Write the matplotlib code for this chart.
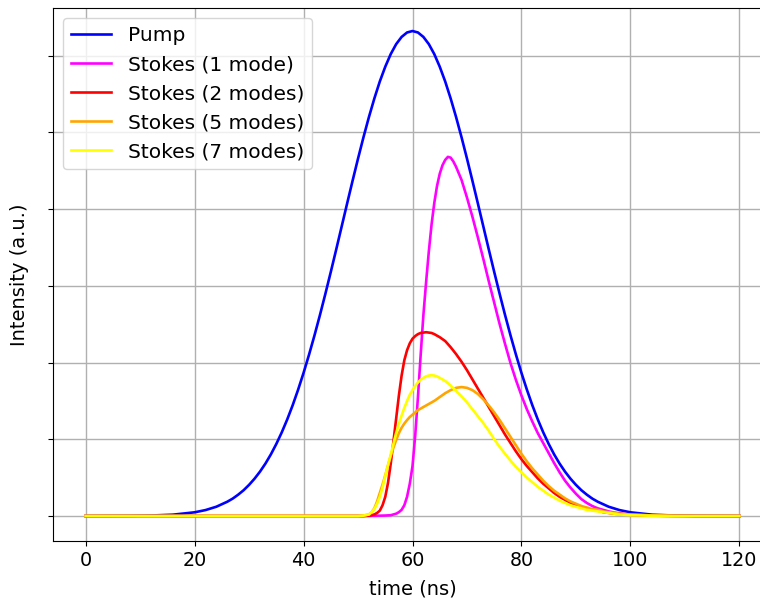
import matplotlib
matplotlib.use('Agg')
import matplotlib.pyplot as plt

# pump pulse (y in grid units)
t_pump = [0, 8, 12, 16, 20, 22, 24, 26,
          27, 28, 29, 30, 31, 32, 33, 34, 35, 36, 37, 38, 39, 40, 41, 42, 43, 44, 45, 46,
          47, 48, 49, 50, 51, 52, 53, 54, 55, 56, 57, 58, 59, 60, 61, 62, 63, 64, 65, 66,
          67, 68, 69, 70, 71, 72, 73, 74, 75, 76, 77, 78, 79, 80, 81, 82, 83, 84, 85, 86,
          87, 88, 89, 90, 91, 92, 93,
          94, 96, 98, 100, 104, 108, 112, 120]
pump = [0.0, 0.002, 0.006, 0.017, 0.048, 0.077, 0.121, 0.186,
        0.227, 0.278, 0.336, 0.406, 0.486, 0.578, 0.683, 0.803, 0.939, 1.090, 1.258, 1.443,
        1.646, 1.865, 2.101, 2.352, 2.617, 2.894, 3.181, 3.475, 3.774, 4.073, 4.369, 4.658,
        4.936, 5.199, 5.442, 5.663, 5.855, 6.019, 6.149, 6.243, 6.301, 6.32,
        6.301, 6.243, 6.149, 6.019, 5.855, 5.663, 5.442, 5.199, 4.936, 4.658, 4.369, 4.073,
        3.774, 3.475, 3.181, 2.894, 2.617, 2.352, 2.101, 1.865, 1.646, 1.443, 1.258, 1.090,
        0.939, 0.803, 0.683, 0.578, 0.486, 0.406, 0.336, 0.278, 0.227,
        0.186, 0.121, 0.077, 0.048, 0.017, 0.006, 0.002, 0.0]

# stokes pulses
t_stokes = [0, 10, 20, 30, 40, 46, 48, 50, 51,
            52, 52.5, 53, 53.5, 54, 54.5, 55, 55.5, 56, 56.5, 57, 57.5, 58, 58.5, 59, 59.5,
            60, 60.5, 61, 61.5, 62, 62.5, 63, 63.5, 64, 64.5, 65, 65.5, 66, 66.5, 67, 67.5, 68,
            69, 70, 71, 72, 73, 74, 75, 76, 77, 78, 79, 80, 81, 82, 83, 84,
            85, 86, 87, 88, 89, 90, 91, 92, 93, 94, 95, 96, 97, 98, 99, 100,
            104, 108, 112, 120]
stokes1 = [0, 0, 0, 0, 0, 0, 0, 0, 0,
           0.001, 0.002, 0.002, 0.003, 0.004, 0.005, 0.006, 0.008, 0.01, 0.02, 0.03, 0.05,
           0.08, 0.14, 0.25, 0.42, 0.65, 1.05, 1.55, 2.10, 2.62, 3.05, 3.45, 3.80, 4.08, 4.30,
           4.46, 4.57, 4.64, 4.68, 4.67, 4.62, 4.55,
           4.38, 4.15, 3.90, 3.63, 3.35, 3.06, 2.78, 2.50, 2.24, 1.99, 1.77, 1.57, 1.39, 1.23,
           1.08, 0.95, 0.82, 0.69, 0.57, 0.46, 0.37, 0.29, 0.22, 0.17, 0.13, 0.10, 0.08, 0.06,
           0.045, 0.035, 0.025, 0.02,
           0.004, 0.001, 0, 0]
stokes2 = [0, 0, 0, 0, 0, 0, 0, 0, 0,
           0.005, 0.01, 0.02, 0.04, 0.07, 0.14, 0.25, 0.43, 0.68, 0.97, 1.27, 1.57, 1.83, 2.03,
           2.16, 2.25, 2.31, 2.345, 2.37, 2.385, 2.39, 2.395, 2.39, 2.385, 2.37, 2.35, 2.33,
           2.305, 2.28, 2.24, 2.20, 2.155, 2.11,
           2.01, 1.90, 1.78, 1.66, 1.54, 1.42, 1.30, 1.18, 1.06, 0.95, 0.84, 0.74, 0.65, 0.57,
           0.49, 0.42, 0.36, 0.30, 0.25, 0.21, 0.17, 0.14, 0.12, 0.10, 0.08, 0.07, 0.05, 0.04,
           0.03, 0.025, 0.02, 0.015,
           0.005, 0.002, 0, 0]
stokes5 = [0, 0, 0, 0, 0, 0, 0, 0, 0.005,
           0.02, 0.05, 0.10, 0.19, 0.30, 0.41, 0.53, 0.66, 0.78, 0.89, 0.99, 1.08, 1.15, 1.205,
           1.25, 1.29, 1.32, 1.35, 1.38, 1.40, 1.42, 1.44, 1.46, 1.48, 1.50, 1.525, 1.55,
           1.575, 1.60, 1.62, 1.64, 1.655, 1.67,
           1.68, 1.67, 1.64, 1.59, 1.52, 1.44, 1.35, 1.25, 1.14, 1.03, 0.92, 0.81, 0.71, 0.62,
           0.54, 0.46, 0.39, 0.33, 0.28, 0.23, 0.19, 0.16, 0.13, 0.11, 0.09, 0.08, 0.06, 0.05,
           0.04, 0.03, 0.025, 0.02,
           0.007, 0.002, 0, 0]
stokes7 = [0, 0, 0, 0, 0, 0, 0, 0, 0.005,
           0.02, 0.05, 0.09, 0.16, 0.25, 0.37, 0.52, 0.66, 0.80, 0.94, 1.08, 1.20, 1.31, 1.41,
           1.50, 1.58, 1.64, 1.695, 1.74, 1.775, 1.80, 1.82, 1.83, 1.835, 1.83, 1.82, 1.80,
           1.78, 1.76, 1.73, 1.70, 1.665, 1.63,
           1.56, 1.48, 1.39, 1.30, 1.21, 1.11, 1.00, 0.90, 0.81, 0.72, 0.64, 0.57, 0.50, 0.44,
           0.38, 0.33, 0.28, 0.24, 0.20, 0.17, 0.14, 0.12, 0.10, 0.08, 0.07, 0.06, 0.05, 0.04,
           0.03, 0.02, 0.015, 0.01,
           0.003, 0, 0, 0]

labels = ['Pump', 'Stokes (1 mode)', 'Stokes (2 modes)', 'Stokes (5 modes)', 'Stokes (7 modes)']
colors = ['blue', 'magenta', 'red', 'orange', 'yellow']

plt.rcParams['font.size'] = 13.8

fig = plt.figure(figsize=(7.6, 6.03), dpi=100)
ax = fig.add_axes([53/760, 62/603, 719/760, 533/603])

ax.plot(t_pump, pump, color=colors[0], lw=1.9, label=labels[0])
for y, c, lab in zip([stokes1, stokes2, stokes5, stokes7], colors[1:], labels[1:]):
    ax.plot(t_stokes, y, color=c, lw=1.9, label=lab)

ax.set_xlim(-6, 126)
ax.set_ylim(-0.326, 6.62)
ax.set_xticks([0, 20, 40, 60, 80, 100, 120])
ax.set_yticks([0, 1, 2, 3, 4, 5, 6])
ax.set_yticklabels([])
ax.grid(True, color='#b0b0b0', lw=1)
ax.set_xlabel('time (ns)', fontsize=14, labelpad=7)
ax.set_ylabel('Intensity (a.u.)', fontsize=14, labelpad=10)
ax.legend(loc='upper left', fontsize=14.5)

fig.savefig('out.png', dpi=100)
